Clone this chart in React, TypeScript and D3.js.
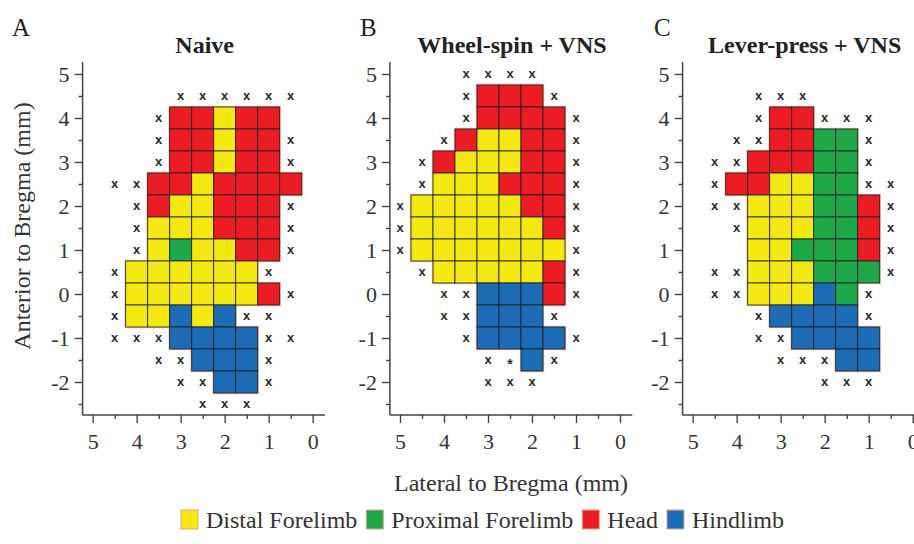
import React, { useRef, useEffect } from 'react';
import * as d3 from 'd3';

// Stimulation sites, one string per row (anterior 5 .. -2.5 mm),
// one char per column (lateral 5 .. 0 mm, 0.5 mm steps).
// Y = distal forelimb, G = proximal forelimb, R = head, B = hindlimb,
// x = no response, * = other, . = not tested
const lateralCols = [5, 4.5, 4, 3.5, 3, 2.5, 2, 1.5, 1, 0.5, 0];
const anteriorRows = [5, 4.5, 4, 3.5, 3, 2.5, 2, 1.5, 1, 0.5, 0, -0.5, -1, -1.5, -2, -2.5];

const naiveMap = [
  '...........',
  '....xxxxxx.',
  '...xRRYRR..',
  '...xRRYRRx.',
  '...xRRYRRx.',
  '.xxRRYRRRR.',
  '..xRYYRRRx.',
  '..xYYYRRRx.',
  '..xYGYYRRx.',
  '.xYYYYYYx..',
  '.xYYYYYYRx.',
  '.xYYBYBxx..',
  '.xxxBBBBxx.',
  '...xxBBBx..',
  '....xxBBx..',
  '.....xxx...',
];

const wheelSpinMap = [
  '...xxxx....',
  '...xRRRx...',
  '...xRRRRx..',
  '..xRYYRRx..',
  '.xRYYYRRx..',
  '.xYYYRRRx..',
  'xYYYYYRRx..',
  'xYYYYYYRx..',
  'xYYYYYYYx..',
  '.xYYYYYRx..',
  '..xxBBBRx..',
  '..xxBBBx...',
  '...xBBBBx..',
  '....x*Bx...',
  '....xxx....',
  '...........',
];

const leverPressMap = [
  '...........',
  '...xxx.....',
  '...xRRxxx..',
  '..xxRRGGx..',
  '.xxRRRGGx..',
  '.xRRYYGGxx.',
  '.xxYYYGGRx.',
  '..xYYYGGRx.',
  '...YYGGGRx.',
  '.xxYYYGGGx.',
  '.xxYYYBGx..',
  '...xBBBBx..',
  '...xxBBBB..',
  '....xxxBB..',
  '......xxx..',
  '...........',
];

const panelMaps = [naiveMap, wheelSpinMap, leverPressMap];
const panelTitles = ['Naive', 'Wheel-spin + VNS', 'Lever-press + VNS'];
const panelLetters = ['A', 'B', 'C'];

const xTicks = [5, 4, 3, 2, 1, 0];
const xMinorTicks = [4.5, 3.5, 2.5, 1.5, 0.5];
const yTicks = [5, 4, 3, 2, 1, 0, -1, -2];
const yMinorTicks = [4.5, 3.5, 2.5, 1.5, 0.5, -0.5, -1.5, -2.5];

const legendCodes = ['Y', 'G', 'R', 'B'];
const legendLabels = ['Distal Forelimb', 'Proximal Forelimb', 'Head', 'Hindlimb'];

const colors: Record<string, string> = {
  Y: '#f5e914',
  G: '#1fa84a',
  R: '#ec1c24',
  B: '#1c6cb8'
};

const SERIF = '"Liberation Serif", "Times New Roman", serif';
const SANS = '"Liberation Sans", Arial, sans-serif';

const App: React.FC = () => {
  const svgRef = useRef<SVGSVGElement>(null);
  const width = 914;
  const height = 544;

  useEffect(() => {
    if (!svgRef.current) return;
    const svg = d3.select(svgRef.current);
    svg.selectAll('*').remove();

    const panelLeft = [92.7, 400, 692.7];
    const axisColor = '#444';
    const plainNum = (d: d3.NumberValue) => String(+d);

    panelMaps.forEach((rowsData, i) => {
      const x = d3.scaleLinear().domain([5, 0]).range([panelLeft[i], panelLeft[i] + 220]);
      const y = d3.scaleLinear().domain([5, 0]).range([74, 294]);
      const g = svg.append('g');

      const cellW = x(0) - x(0.5);
      const cellH = y(0) - y(0.5);

      const cells: { lx: number; ay: number; code: string }[] = [];
      const marks: { lx: number; ay: number; code: string }[] = [];
      rowsData.forEach((row, ri) => {
        row.split('').forEach((ch, ci) => {
          const item = { lx: lateralCols[ci], ay: anteriorRows[ri], code: ch };
          if (colors[ch]) cells.push(item);
          else if (ch === 'x' || ch === '*') marks.push(item);
        });
      });

      // faint outline round the mapped area
      g.selectAll('.cell-halo')
        .data(cells)
        .enter()
        .append('rect')
        .attr('x', d => x(d.lx) - cellW / 2)
        .attr('y', d => y(d.ay) - cellH / 2)
        .attr('width', cellW)
        .attr('height', cellH)
        .attr('fill', '#f2b9a8')
        .attr('stroke', '#f2b9a8')
        .attr('stroke-width', 2.4);

      g.selectAll('.cell')
        .data(cells)
        .enter()
        .append('rect')
        .attr('x', d => x(d.lx) - cellW / 2)
        .attr('y', d => y(d.ay) - cellH / 2)
        .attr('width', cellW)
        .attr('height', cellH)
        .attr('fill', d => colors[d.code])
        .attr('stroke', '#1a1a1a')
        .attr('stroke-width', 0.8);

      g.selectAll('.mark')
        .data(marks)
        .enter()
        .append('text')
        .attr('x', d => x(d.lx))
        .attr('y', d => y(d.ay))
        .attr('dy', d => (d.code === '*' ? '0.62em' : '0.3em'))
        .attr('text-anchor', 'middle')
        .attr('font-family', SANS)
        .attr('font-weight', 'bold')
        .attr('font-size', d => (d.code === '*' ? 14 : 13))
        .attr('fill', '#2a2a2a')
        .text(d => d.code);

      // axes
      const axisX = x(5.23);
      const axisY = y(-2.75);

      const xAxis = g.append('g')
        .attr('transform', `translate(0, ${axisY})`)
        .call(d3.axisBottom(x).tickValues(xTicks).tickSize(8).tickSizeOuter(0).tickFormat(plainNum));
      g.append('g')
        .attr('transform', `translate(0, ${axisY})`)
        .call(d3.axisBottom(x).tickValues(xMinorTicks).tickSize(4).tickSizeOuter(0).tickFormat(() => ''));

      const yAxis = g.append('g')
        .attr('transform', `translate(${axisX}, 0)`)
        .call(d3.axisLeft(y).tickValues(yTicks).tickSize(8).tickSizeOuter(0).tickFormat(plainNum));
      g.append('g')
        .attr('transform', `translate(${axisX}, 0)`)
        .call(d3.axisLeft(y).tickValues(yMinorTicks).tickSize(4).tickSizeOuter(0).tickFormat(() => ''));

      g.selectAll('.domain').remove();
      g.selectAll('.tick line').attr('stroke', axisColor).attr('stroke-width', 1.4);

      xAxis.selectAll('.tick text')
        .attr('y', 34)
        .attr('dy', 0)
        .attr('font-family', SERIF)
        .attr('font-size', 22)
        .attr('fill', '#333');
      yAxis.selectAll('.tick text')
        .attr('x', -13)
        .attr('dy', '0.34em')
        .attr('font-family', SERIF)
        .attr('font-size', 22)
        .attr('fill', '#333');

      g.append('line')
        .attr('x1', axisX).attr('x2', axisX)
        .attr('y1', y(5.27)).attr('y2', axisY)
        .attr('stroke', axisColor).attr('stroke-width', 1.5);
      g.append('line')
        .attr('x1', axisX).attr('x2', x(-0.28))
        .attr('y1', axisY).attr('y2', axisY)
        .attr('stroke', axisColor).attr('stroke-width', 1.5);

      // title
      g.append('text')
        .attr('x', x(2.5) + 2)
        .attr('y', 53)
        .attr('text-anchor', 'middle')
        .attr('font-family', SERIF)
        .attr('font-weight', 'bold')
        .attr('font-size', 24)
        .attr('fill', '#222')
        .text(panelTitles[i]);
    });

    const letterX = [12, 360, 654];
    panelLetters.forEach((l, i) => {
      svg.append('text')
        .attr('x', letterX[i])
        .attr('y', 36)
        .attr('font-family', SERIF)
        .attr('font-size', 25)
        .attr('fill', '#222')
        .text(l);
    });

    svg.append('text')
      .attr('transform', 'translate(30, 226) rotate(-90)')
      .attr('text-anchor', 'middle')
      .attr('font-family', SERIF)
      .attr('font-size', 24)
      .attr('fill', '#333')
      .text('Anterior to Bregma (mm)');

    svg.append('text')
      .attr('x', 511)
      .attr('y', 491)
      .attr('text-anchor', 'middle')
      .attr('font-family', SERIF)
      .attr('font-size', 24)
      .attr('fill', '#333')
      .text('Lateral to Bregma (mm)');

    // legend
    const legend = svg.append('g');
    let lx = 181;
    legendCodes.forEach((code, i) => {
      legend.append('rect')
        .attr('x', lx)
        .attr('y', 510)
        .attr('width', 17)
        .attr('height', 19)
        .attr('fill', colors[code])
        .attr('stroke', '#e9a184')
        .attr('stroke-width', 1);
      const t = legend.append('text')
        .attr('x', lx + 25)
        .attr('y', 528)
        .attr('font-family', SERIF)
        .attr('font-size', 24)
        .attr('fill', '#333')
        .text(legendLabels[i]);
      const len = (t.node() as SVGTextElement).getComputedTextLength();
      lx += 25 + len + 9;
    });
  }, []);

  return (
    <svg
      ref={svgRef}
      width={width}
      height={height}
      style={{ position: 'absolute', left: 0, top: 0, background: 'white' }}
    />
  );
};

export default App;
